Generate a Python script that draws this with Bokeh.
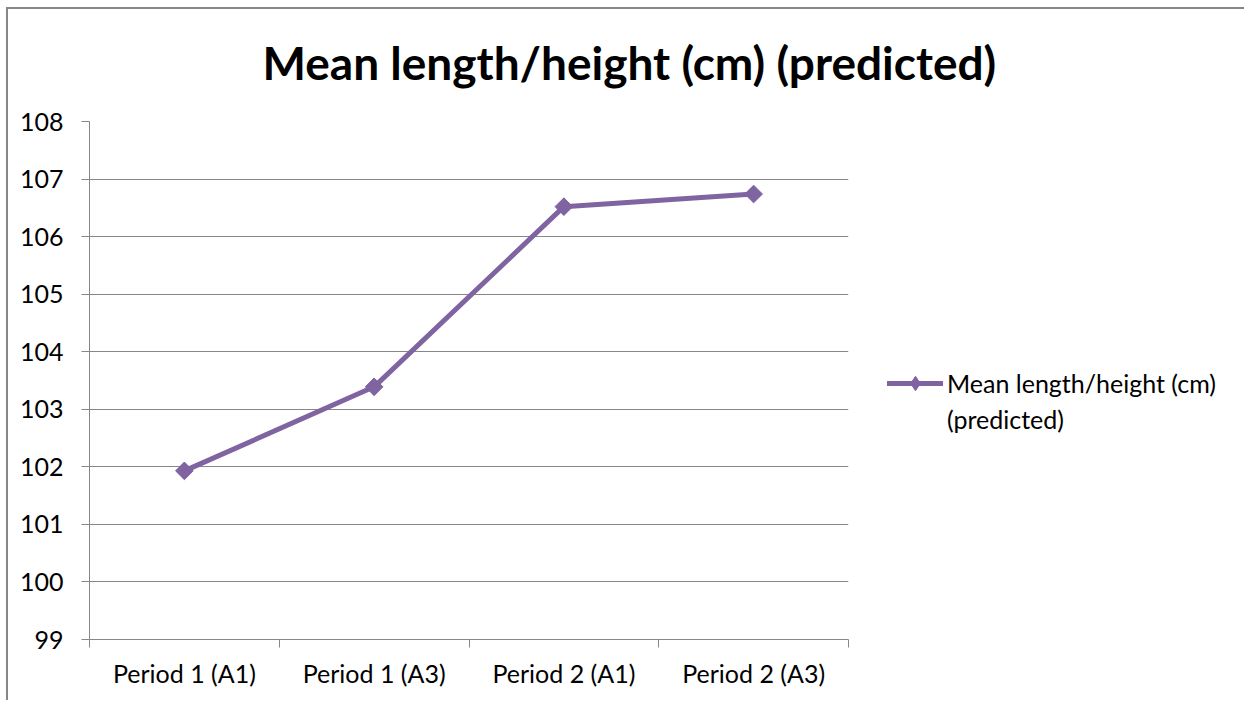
from math import pi
from bokeh.plotting import figure
from bokeh.models import FixedTicker, Legend, LegendItem, Title, ColumnDataSource, Range1d
from bokeh.embed import file_html
from bokeh.resources import INLINE

categories = ["Period 1 (A1)", "Period 1 (A3)", "Period 2 (A1)", "Period 2 (A3)"]
values = [101.93, 103.39, 106.52, 106.74]
y_ticks = [99, 100, 101, 102, 103, 104, 105, 106, 107, 108]
series_name_lines = ["Mean length/height (cm)", "(predicted)"]
title_text = "Mean length/height (cm) (predicted)"

x_pos = [i + 0.5 for i in range(len(categories))]
src = ColumnDataSource(dict(x=x_pos, y=values))

FONT = "Lato"
GRAY = "#878787"
PURPLE = "#8064A2"
FS = "25px"

p = figure(frame_width=759, frame_height=518, output_backend="svg", toolbar_location=None,
           x_range=Range1d(0, len(categories)), y_range=Range1d(y_ticks[0], y_ticks[-1]),
           min_border_left=89, min_border_right=20, min_border_top=121, min_border_bottom=61)
# outer chart-area frame (left and top edges), drawn behind a transparent canvas
p.styles = {
    "background-image": "linear-gradient(#878787, #878787), linear-gradient(#878787, #878787)",
    "background-repeat": "no-repeat",
    "background-size": "100% 2px, 2px 100%",
    "background-position": "6px 7px, 6px 7px",
}
p.border_fill_color = None
p.background_fill_color = "white"
p.outline_line_color = None

t = Title(text=title_text, align="left", offset=173, text_font=FONT, standoff=64,
          text_font_size="46px", text_font_style="bold", text_color="black")
p.add_layout(t, "above")

# x axis
p.xaxis.ticker = FixedTicker(ticks=x_pos, minor_ticks=list(range(len(categories) + 1)))
p.xaxis.major_label_overrides = {x: c for x, c in zip(x_pos, categories)}
p.xaxis.major_tick_line_color = None
p.xaxis.minor_tick_line_color = GRAY
p.xaxis.minor_tick_out = 8
p.xaxis.minor_tick_in = 0
p.xaxis.axis_line_color = GRAY
p.xaxis.major_label_text_font = FONT
p.xaxis.major_label_text_font_size = FS
p.xaxis.major_label_text_color = "black"
p.xaxis.major_label_standoff = 10
p.xgrid.grid_line_color = None

# y axis
p.yaxis.ticker = FixedTicker(ticks=y_ticks)
p.yaxis.major_tick_line_color = GRAY
p.yaxis.major_tick_out = 8
p.yaxis.major_tick_in = 0
p.yaxis.minor_tick_line_color = None
p.yaxis.axis_line_color = GRAY
p.yaxis.major_label_text_font = FONT
p.yaxis.major_label_text_font_size = FS
p.yaxis.major_label_text_color = "black"
p.yaxis.major_label_standoff = 18
p.ygrid.grid_line_color = GRAY
p.ygrid.grid_line_width = 1

r1 = p.line("x", "y", source=src, line_color=PURPLE, line_width=5, line_cap="round",
            line_join="round")
# diamond markers (used by the legend) hidden under the rotated-square markers
r_dia = p.scatter("x", "y", source=src, marker="diamond", size=16,
                  fill_color=PURPLE, line_color=PURPLE)
r2 = p.scatter("x", "y", source=src, marker="square", angle=pi / 4, size=12.5,
               fill_color=PURPLE, line_color=PURPLE)
r_blank = p.line(x=[], y=[], line_alpha=0)

legend = Legend(items=[LegendItem(label=series_name_lines[0], renderers=[r1, r_dia]),
                       LegendItem(label=series_name_lines[1], renderers=[r_blank])],
                location=(39, 202), margin=0, spacing=0,
                padding=0, border_line_color=None, background_fill_alpha=0,
                label_text_font=FONT, label_text_font_size=FS, label_height=28,
                label_text_color="black",
                glyph_width=56, glyph_height=36, label_standoff=4)
p.add_layout(legend, "right")

open("out.html", "w").write(file_html(p, INLINE))
